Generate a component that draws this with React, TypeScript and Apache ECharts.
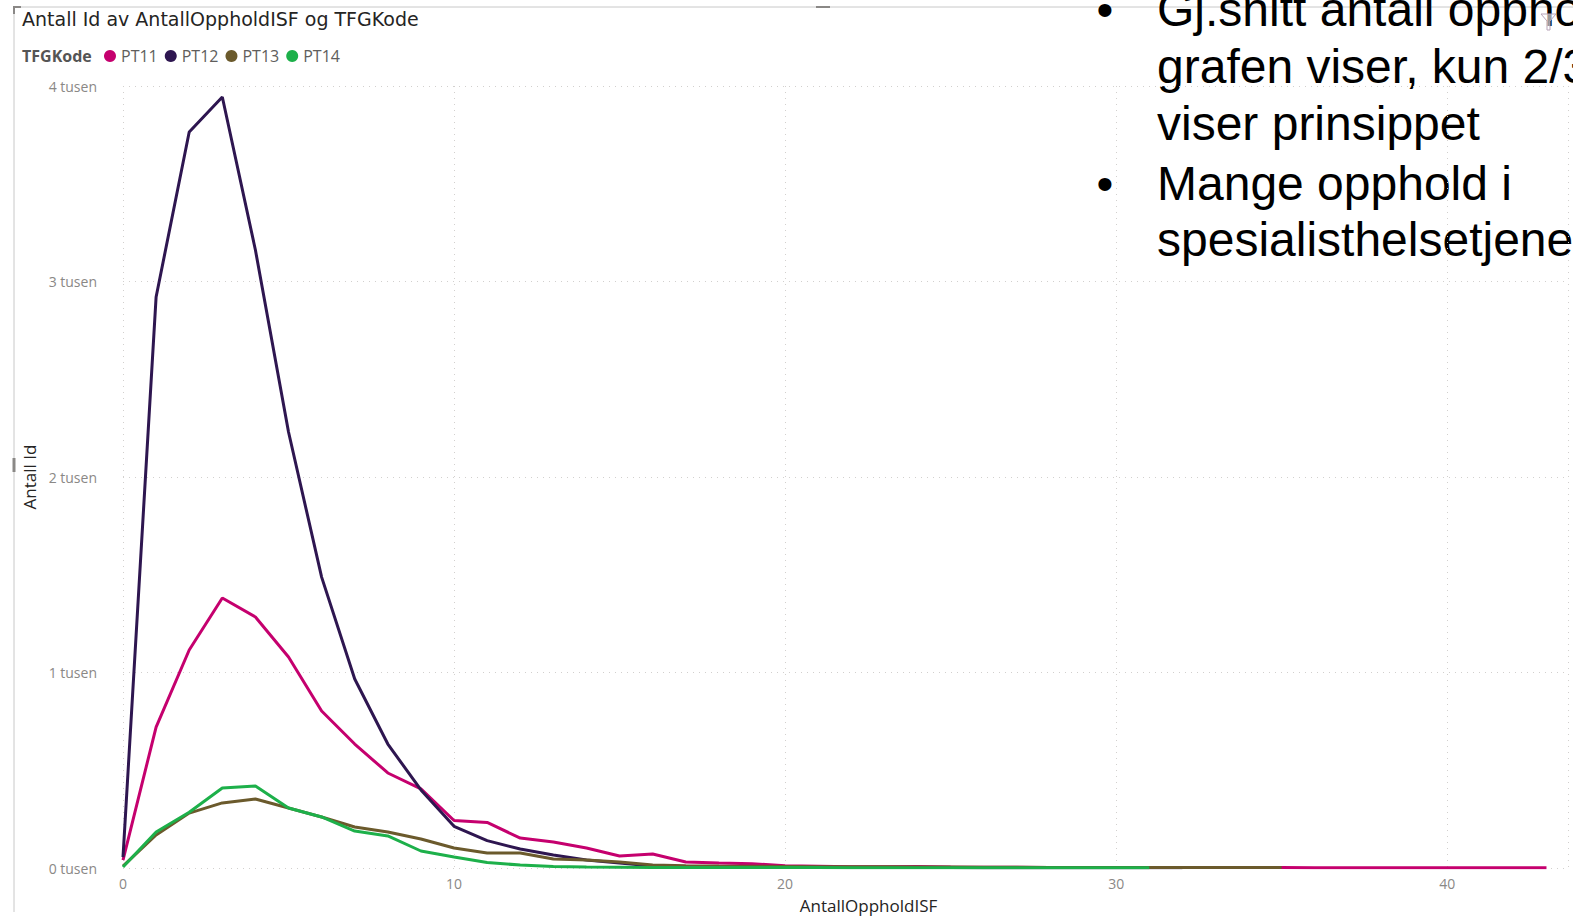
import React, { useEffect, useRef } from "react";
import * as echarts from "echarts";

const seriesNames = ["PT11", "PT12", "PT13", "PT14"];
const seriesColors = ["#C5006E", "#2E1650", "#6B5A2C", "#1DB04A"];

const pt11 = [40, 721, 1115, 1381, 1284, 1079, 803, 634, 486, 405, 243, 233, 153, 133, 102, 61, 72, 31, 26, 22, 12, 9, 6, 6, 8, 5, 4, 4, 3, 3, 2, 3, 2, 2, 2, 2, 1, 1, 1, 1, 1, 1, 1, 1];
const pt12 = [56, 2921, 3765, 3944, 3161, 2230, 1488, 967, 634, 399, 213, 140, 97, 66, 41, 25, 10, 8, 6, 5, 4, 3, 3, 2, 2, 2, 1, 1, 1, 1, 1, 1, 1];
const pt13 = [10, 169, 281, 333, 353, 307, 261, 210, 184, 148, 102, 77, 77, 46, 41, 31, 15, 12, 10, 9, 8, 7, 6, 6, 5, 5, 4, 4, 3, 3, 3, 3, 2, 2, 2, 2];
const pt14 = [5, 184, 285, 409, 419, 307, 261, 189, 164, 87, 56, 28, 15, 8, 5, 4, 3, 3, 2, 2, 2, 2, 1, 1, 1, 1, 1, 1, 1, 1, 1, 1];

const yTicks = [0, 1000, 2000, 3000, 4000];
const titleText = "Antall Id av AntallOppholdISF og TFGKode";
const legendTitle = "TFGKode";
const xAxisName = "AntallOppholdISF";
const yAxisName = "Antall Id";
const noteLines = [
  { bullet: true, text: "Gj.snitt antall opphold" },
  { bullet: false, text: "grafen viser, kun 2/3" },
  { bullet: false, text: "viser prinsippet" },
  { bullet: true, text: "Mange opphold i" },
  { bullet: false, text: "spesialisthelsetjenesten" },
];

const allSeries = [pt11, pt12, pt13, pt14];

export default function App() {
  const ref = useRef<HTMLDivElement>(null);
  useEffect(() => {
    if (!ref.current) return;
    const chart = echarts.init(ref.current, null, { renderer: "svg" });
    const font = "'Open Sans', 'Noto Sans', sans-serif";
    const noteFont = "48px 'Liberation Sans', Arial, sans-serif";
    const noteY = [9, 66, 123, 183, 239];
    const graphics: any[] = [
      { type: "line", shape: { x1: 14, y1: 7, x2: 1573, y2: 7 }, style: { stroke: "#C8C8C8", lineWidth: 1 } },
      { type: "line", shape: { x1: 14, y1: 7, x2: 14, y2: 912 }, style: { stroke: "#C8C8C8", lineWidth: 1 } },
      { type: "polyline", shape: { points: [[14, 14], [14, 7], [21, 7]] }, style: { stroke: "#8A8886", lineWidth: 2, fill: null } },
      { type: "line", shape: { x1: 816, y1: 7, x2: 830, y2: 7 }, style: { stroke: "#8A8886", lineWidth: 2 } },
      { type: "line", shape: { x1: 14, y1: 458, x2: 14, y2: 472 }, style: { stroke: "#8A8886", lineWidth: 3 } },
      {
        type: "text", x: 22, y: 19,
        style: { text: titleText, fill: "#252423", font: "19px 'DejaVu Sans', sans-serif", verticalAlign: "middle" },
      },
      {
        type: "text", x: 22, y: 56,
        style: { text: legendTitle, fill: "#555555", font: `bold 16px ${font}`, verticalAlign: "middle" },
      },
    ];
    noteLines.forEach((l, i) => {
      if (l.bullet) {
        graphics.push({
          type: "text", x: 1105, y: noteY[i],
          style: { text: "•", fill: "#000", font: noteFont, align: "center", verticalAlign: "middle" },
        });
      }
      graphics.push({
        type: "text", x: 1157, y: noteY[i],
        style: { text: l.text, fill: "#000", font: noteFont, verticalAlign: "middle" },
      });
    });
    graphics.push({
      type: "polygon",
      shape: { points: [[1541, 14], [1556, 14], [1550, 21], [1550, 30], [1547, 30], [1547, 21]] },
      style: { stroke: "#B7A3B8", lineWidth: 1, fill: "rgba(255,255,255,0.6)" },
    });

    chart.setOption({
      animation: false,
      backgroundColor: "#FFFFFF",
      legend: {
        data: seriesNames,
        left: 104,
        top: 48,
        padding: 0,
        icon: "circle",
        itemWidth: 12,
        itemHeight: 12,
        itemGap: 7,
        textStyle: { color: "#605E5C", fontSize: 16, fontFamily: font },
      },
      grid: { left: 123, right: 5, top: 86, bottom: 50, containLabel: false, outerBoundsMode: "none" },
      xAxis: {
        type: "value",
        min: 0,
        max: 43.65,
        interval: 10,
        name: xAxisName,
        nameLocation: "middle",
        nameGap: 29,
        nameTextStyle: { color: "#252423", fontSize: 17, fontFamily: font, padding: [0, 0, 0, 46] },
        axisLine: { show: false },
        axisTick: { show: false },
        axisLabel: { color: "#8A8886", fontSize: 14, margin: 8, showMaxLabel: false, fontFamily: font },
        splitLine: { show: true, lineStyle: { color: "#D2D0CE", type: [1, 5], width: 1 } },
      },
      yAxis: {
        type: "value",
        min: yTicks[0],
        max: yTicks[yTicks.length - 1],
        interval: 1000,
        name: yAxisName,
        nameLocation: "middle",
        nameRotate: 90,
        nameGap: 84,
        nameTextStyle: { color: "#252423", fontSize: 17, fontFamily: font },
        axisLine: { show: false },
        axisTick: { show: false },
        axisLabel: {
          color: "#8A8886", fontSize: 14, margin: 26, fontFamily: font,
          formatter: (v: number) => `${v / 1000} tusen`,
        },
        splitLine: { show: true, lineStyle: { color: "#D2D0CE", type: [1, 5], width: 1 } },
      },
      series: allSeries.map((arr, s) => ({
        name: seriesNames[s],
        type: "line",
        data: arr.map((v, i) => [i, v]),
        showSymbol: false,
        symbol: "circle",
        itemStyle: { color: seriesColors[s] },
        lineStyle: { color: seriesColors[s], width: 3 },
      })),
      graphic: graphics,
    });
    return () => chart.dispose();
  }, []);
  return (
    <div
      ref={ref}
      style={{ position: "fixed", left: 0, top: 0, width: 1573, height: 918, background: "#fff" }}
    />
  );
}
